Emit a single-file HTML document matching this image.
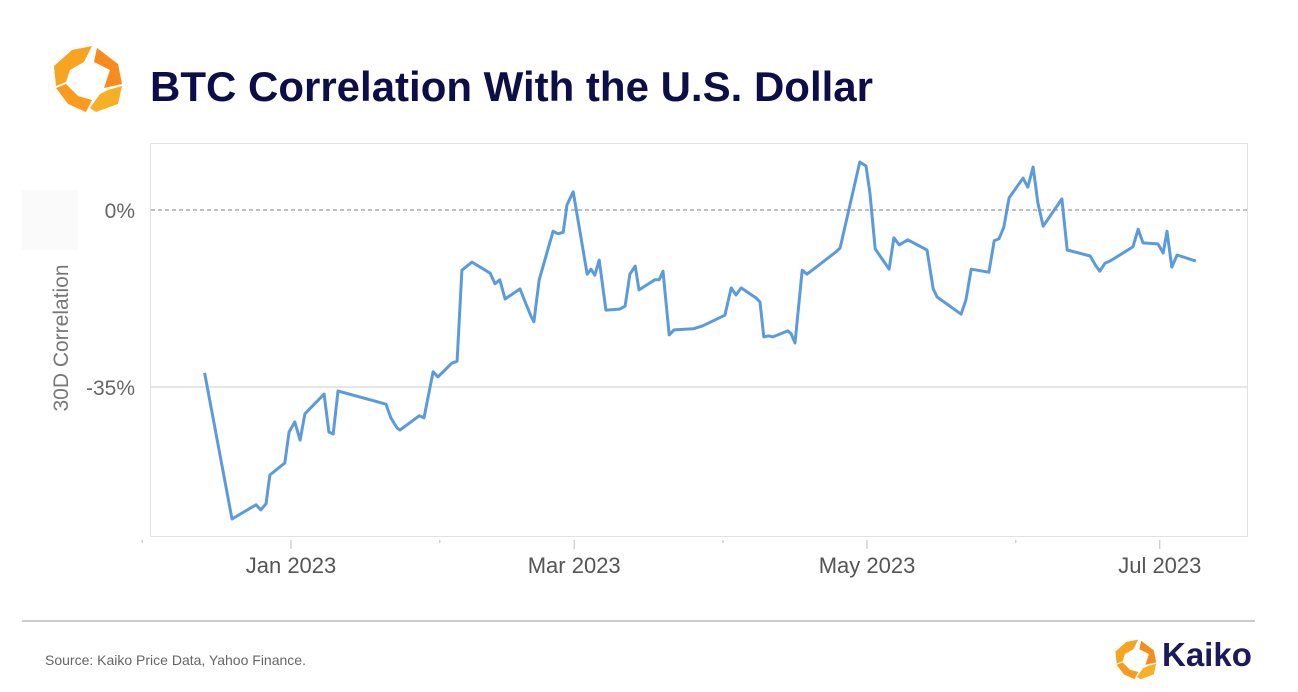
<!DOCTYPE html>
<html><head><meta charset="utf-8"><style>
body{margin:0;width:1298px;height:692px;background:#fff;overflow:hidden;font-family:"Liberation Sans",Arial,sans-serif;}
svg{display:block}
</style></head><body>
<svg width="1298" height="692">
<g>
<polygon points="72,50 92,46 84,62 70,70 66,82 56,86 54,66" fill="#f7a520"/>
<polygon points="97,48 118,64 122,84 104,88 110,70 94,62" fill="#f98a1c"/>
<polygon points="56,88 66,84 78,96 92,100 86,112 68,104" fill="#fb9a1e"/>
<polygon points="122,86 118,104 96,112 90,108 100,94 108,90" fill="#f7b026"/>
</g>
<text x="150" y="101" font-size="42" font-weight="bold" fill="#0d0d4a">BTC Correlation With the U.S. Dollar</text>
<rect x="150.5" y="143.5" width="1097" height="393" fill="none" stroke="#e2e2e2"/>
<rect x="22" y="190" width="56" height="60" fill="#fafafa"/>
<text transform="translate(68,338) rotate(-90)" text-anchor="middle" font-size="21" fill="#777">30D Correlation</text>
<g id="grid"></g><g id="ticks"></g>
<path id="line" fill="none" stroke="#5b9bdc" stroke-width="3" stroke-linejoin="round"/>
<line x1="22" y1="621" x2="1255" y2="621" stroke="#bbb" stroke-width="1.5"/>
<text x="45" y="665" font-size="14" fill="#666">Source: Kaiko Price Data, Yahoo Finance.</text>
<g>
<g transform="translate(1083,612) scale(0.6)">
<polygon points="72,50 92,46 84,62 70,70 66,82 56,86 54,66" fill="#f7a520"/>
<polygon points="97,48 118,64 122,84 104,88 110,70 94,62" fill="#f98a1c"/>
<polygon points="56,88 66,84 78,96 92,100 86,112 68,104" fill="#fb9a1e"/>
<polygon points="122,86 118,104 96,112 90,108 100,94 108,90" fill="#f7b026"/>
</g>
<text x="1162" y="666" font-size="33" font-weight="bold" fill="#1a1a5a">Kaiko</text>
</g>
</svg>
<script>
const days=[-18,-12.3,-7.3,-6.3,-5.2,-4.4,-1.3,-0.4,0.8,1.9,2.9,6.9,7.9,8.8,9.8,19.8,20.8,22.1,22.7,26.7,27.7,29.6,30.6,33.5,34.6,35.6,37.7,41.5,42.5,43.5,44.6,47.7,48.8,50,50.6,51.7,54.6,55.6,56.7,57.5,58.8,61.7,62.5,63.3,64.2,65.6,68.5,69.6,70.6,71.7,72.5,75.8,76.7,77.5,78.8,79.8,83.8,85.8,90.4,91.7,92.7,93.8,96.9,97.7,98.5,99.4,100.4,103.5,104.2,105,106.5,107.5,113.5,114.4,118.5,119.8,120.6,121.7,124.6,125.6,126.7,128.5,132.5,133.8,134.6,139.6,140.6,141.7,145.4,146.5,147.5,148.5,149.6,152.5,153.5,154.6,155.6,156.7,160.6,161.7,166.5,167.7,168.5,169.6,170.6,175.4,176.5,177.5,180.6,181.7,182.5,183.5,184.6,188.5];
const corr=[-32.2,-61.1,-58.3,-59.3,-58.1,-52.4,-50,-43.9,-41.9,-45.5,-40.3,-36.4,-43.9,-44.3,-35.8,-38.4,-41.1,-43.1,-43.5,-40.7,-41.1,-32,-33,-30.3,-29.9,-11.9,-10.3,-12.5,-14.6,-13.8,-17.6,-15.6,-18.2,-21,-22.1,-13.8,-4.2,-4.7,-4.4,1,3.6,-12.7,-11.7,-12.9,-9.9,-19.8,-19.6,-19,-12.7,-11.1,-15.8,-13.8,-13.8,-12.1,-24.7,-23.7,-23.5,-22.9,-20.8,-15.4,-16.8,-15.4,-17.4,-18.2,-25.1,-24.9,-25.1,-23.9,-24.5,-26.3,-11.9,-12.7,-8.3,-7.5,9.5,8.7,3.4,-7.7,-11.7,-5.5,-6.9,-5.9,-7.9,-15.6,-17.2,-20.6,-17.8,-11.7,-12.3,-6.1,-5.7,-3.4,2.4,6.3,4.5,8.5,1.4,-3.2,2.2,-7.9,-9.1,-11.1,-12.1,-10.5,-10.1,-7.3,-3.8,-6.5,-6.7,-8.5,-4.2,-11.3,-8.9,-10.1];
const yTicks=[0,-35];
const yTickLabels=["0%","-35%"];
const xTickDays=[-31,0,31,59,90,120,151,181];
const xTickLabels=["","Jan 2023","","Mar 2023","","May 2023","","Jul 2023"];
const X=d=>291+4.8*d, Y=v=>210-5.057*v;
const NS="http://www.w3.org/2000/svg";
const grid=document.getElementById('grid'), ticks=document.getElementById('ticks');
yTicks.forEach((v,i)=>{
 const l=document.createElementNS(NS,'line');
 l.setAttribute('x1',151);l.setAttribute('x2',1247);l.setAttribute('y1',Y(v));l.setAttribute('y2',Y(v));
 l.setAttribute('stroke',v===0?'#999':'#ddd');l.setAttribute('stroke-width',v===0?1.2:1.5);
 if(v===0)l.setAttribute('stroke-dasharray','4,3');
 
 
 grid.appendChild(l);
 const t=document.createElementNS(NS,'text');
 t.setAttribute('x',135);t.setAttribute('y',Y(v)+8);t.setAttribute('text-anchor','end');
 t.setAttribute('font-size','21');t.setAttribute('fill','#666');t.textContent=yTickLabels[i];
 
 
 grid.appendChild(t);
});
xTickDays.forEach((d,i)=>{
 const major=xTickLabels[i]!=="";
 const l=document.createElementNS(NS,'line');
 l.setAttribute('x1',X(d));l.setAttribute('x2',X(d));l.setAttribute('y1',540);l.setAttribute('y2',major?549:543);
 l.setAttribute('stroke','#bbb');
 
 
 ticks.appendChild(l);
 if(major){
  const t=document.createElementNS(NS,'text');
  t.setAttribute('x',X(d));t.setAttribute('y',573);t.setAttribute('text-anchor','middle');
  t.setAttribute('font-size','22');t.setAttribute('fill','#555');t.textContent=xTickLabels[i];
  
  
  ticks.appendChild(t);
 }
});
document.getElementById('line').setAttribute('d',days.map((d,i)=>(i?'L':'M')+X(d).toFixed(1)+','+Y(corr[i]).toFixed(1)).join(''));
</script>
</body></html>
